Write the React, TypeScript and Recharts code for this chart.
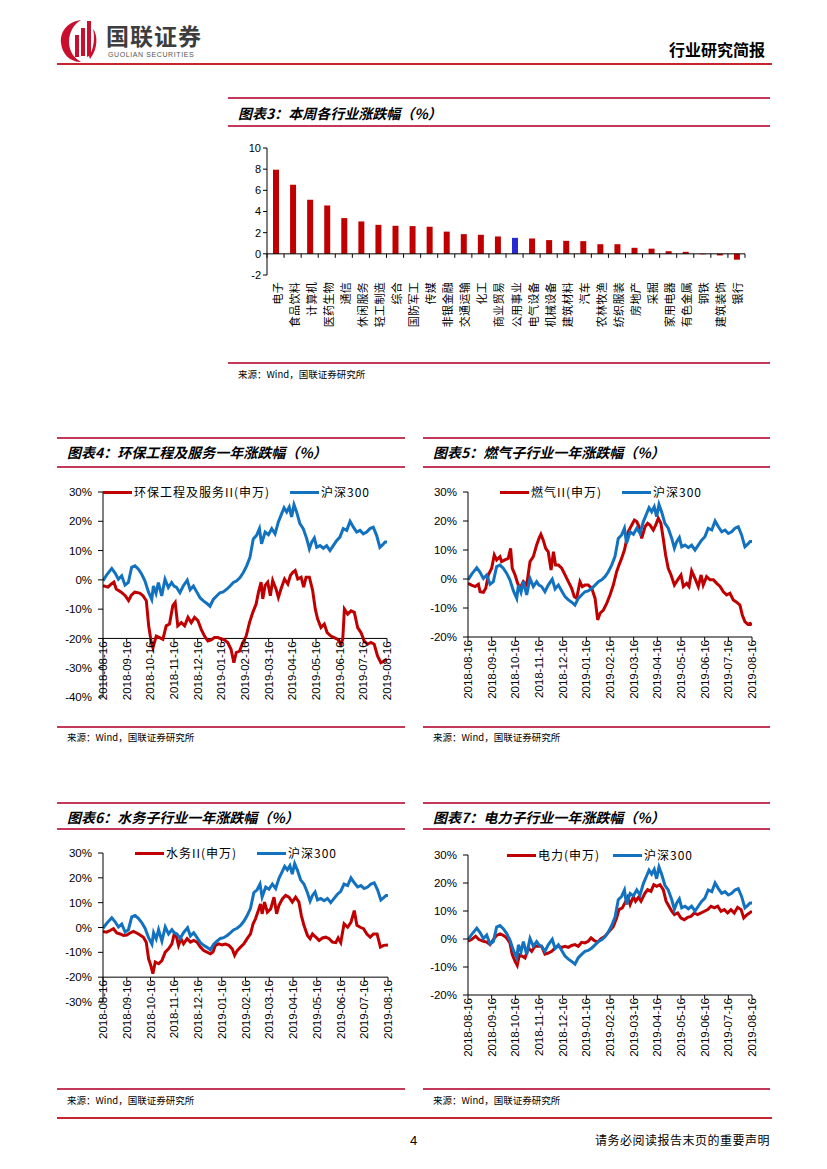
import React from "react";
import { Bar, BarChart, Cell, Line, LineChart, ReferenceLine, XAxis, YAxis } from "recharts";

/* 图表3：本周各行业涨跌幅 (%) */
const industries = [
  "电子", "食品饮料", "计算机", "医药生物", "通信", "休闲服务", "轻工制造", "综合",
  "国防军工", "传媒", "非银金融", "交通运输", "化工", "商业贸易", "公用事业", "电气设备",
  "机械设备", "建筑材料", "汽车", "农林牧渔", "纺织服装", "房地产", "采掘", "家用电器",
  "有色金属", "钢铁", "建筑装饰", "银行",
];
const weeklyChange = [
  7.95, 6.53, 5.11, 4.57, 3.38, 3.06, 2.74, 2.65, 2.62, 2.56, 2.1, 1.86, 1.8, 1.64,
  1.51, 1.45, 1.3, 1.23, 1.2, 0.91, 0.91, 0.57, 0.49, 0.25, 0.19, -0.05, -0.15, -0.55,
];
const highlightIndustry = "公用事业";
const barTicks = [-2, 0, 2, 4, 6, 8, 10];

/* one-year trend charts: x = months since 2018-08-16, y = % change */
const monthLabels = [
  "2018-08-16", "2018-09-16", "2018-10-16", "2018-11-16", "2018-12-16", "2019-01-16",
  "2019-02-16", "2019-03-16", "2019-04-16", "2019-05-16", "2019-06-16", "2019-07-16",
  "2019-08-16",
];
const monthTicks = [0, 1, 2, 3, 4, 5, 6, 7, 8, 9, 10, 11, 12];

type Pt = [number, number];

const hs300: Pt[] = [
  [0, -0.3], [0.15, 1.6], [0.37, 3.9], [0.51, 2.3], [0.65, 0.2], [0.79, 1.4], [0.93, -1.8],
  [1.07, -0.9], [1.21, 4.3], [1.35, 4.8], [1.49, 3.7], [1.63, 2.0], [1.77, -0.3], [1.92, -4.1],
  [2.06, -6.7], [2.13, -2.1], [2.24, -4.6], [2.34, -0.9], [2.48, -5.5], [2.62, 0.2], [2.76, -2.6],
  [2.9, -0.9], [3.0, -2.1], [3.11, -2.6], [3.25, -4.4], [3.39, -2.1], [3.56, -0.1], [3.68, -3.4],
  [3.82, -2.1], [3.96, -4.1], [4.1, -6.1], [4.24, -7.2], [4.38, -8.0], [4.52, -9.0], [4.66, -6.7],
  [4.8, -5.5], [4.94, -4.4], [5.08, -4.1], [5.23, -3.2], [5.37, -2.1], [5.51, -0.9], [5.65, -0.3],
  [5.79, 0.8], [5.93, 2.5], [6.07, 4.8], [6.21, 7.7], [6.35, 14.0], [6.49, 15.2], [6.61, 17.5],
  [6.7, 12.3], [6.85, 16.3], [6.99, 15.4], [7.13, 17.5], [7.27, 15.7], [7.41, 19.8], [7.55, 22.6],
  [7.65, 24.6], [7.76, 23.2], [7.87, 24.9], [7.97, 21.5], [8.07, 25.7], [8.18, 23.2], [8.32, 19.2],
  [8.46, 17.5], [8.61, 14.0], [8.72, 10.6], [8.82, 12.9], [8.93, 14.3], [9.03, 11.1], [9.17, 11.7],
  [9.31, 10.8], [9.45, 11.7], [9.59, 10.0], [9.73, 11.7], [9.87, 13.4], [10.01, 14.6], [10.15, 17.5],
  [10.3, 16.9], [10.44, 20.0], [10.58, 18.0], [10.72, 16.3], [10.86, 16.9], [11.0, 15.7],
  [11.14, 16.3], [11.28, 17.5], [11.42, 18.0], [11.56, 15.2], [11.7, 11.1], [11.82, 12.0],
  [11.92, 12.9], [12.0, 12.9],
];

const envEngineering: Pt[] = [
  [0, -2.0], [0.21, -2.5], [0.35, -1.4], [0.46, -0.8], [0.56, -3.1], [0.77, -4.2], [0.94, -5.4],
  [1.08, -7.1], [1.2, -5.2], [1.34, -4.2], [1.55, -4.5], [1.69, -5.4], [1.83, -7.1], [1.93, -15.7],
  [2.04, -21.4], [2.11, -23.2], [2.25, -19.2], [2.39, -19.7], [2.53, -20.3], [2.67, -15.7],
  [2.81, -15.1], [2.95, -8.8], [3.05, -7.7], [3.16, -15.7], [3.31, -14.6], [3.45, -15.7],
  [3.59, -12.8], [3.73, -14.6], [3.87, -12.8], [4.01, -13.9], [4.15, -16.9], [4.29, -19.2],
  [4.43, -20.9], [4.57, -20.5], [4.71, -19.7], [4.85, -19.7], [4.99, -20.1], [5.13, -20.5],
  [5.27, -21.4], [5.41, -23.7], [5.53, -28.3], [5.63, -24.8], [5.77, -24.3], [5.91, -21.4],
  [6.05, -19.2], [6.19, -14.6], [6.33, -11.1], [6.47, -8.3], [6.57, -4.2], [6.68, -0.8],
  [6.75, -6.5], [6.85, -1.9], [6.96, -0.8], [7.07, -5.4], [7.17, -0.2], [7.31, -3.1], [7.41, -6.0],
  [7.52, -3.1], [7.67, 0.3], [7.81, -1.4], [7.92, 1.5], [8.02, 2.6], [8.12, 3.2], [8.23, 0.3],
  [8.37, 0.9], [8.48, -2.5], [8.58, 0.9], [8.72, 0.9], [8.86, -3.7], [8.97, -10.0], [9.07, -13.4],
  [9.21, -16.3], [9.35, -15.1], [9.47, -18.0], [9.63, -19.2], [9.77, -19.7], [9.92, -20.3],
  [10.06, -22.0], [10.13, -20.3], [10.2, -10.0], [10.34, -11.7], [10.48, -10.6], [10.62, -11.1],
  [10.76, -16.3], [10.9, -18.0], [11.04, -20.9], [11.18, -22.0], [11.32, -21.4], [11.46, -22.0],
  [11.6, -26.0], [11.74, -28.3], [11.88, -27.7], [12.0, -27.0],
];

const gasSector: Pt[] = [
  [0, -1.5], [0.15, -2.1], [0.3, -2.6], [0.44, -1.8], [0.51, -4.4], [0.65, -4.6], [0.75, -3.2],
  [0.86, 1.4], [1.0, 3.7], [1.11, 8.3], [1.21, 6.6], [1.35, 7.7], [1.42, 6.0], [1.56, 6.6],
  [1.7, 7.1], [1.8, 10.6], [1.87, 3.7], [1.99, 1.4], [2.1, -1.5], [2.2, -3.2], [2.34, -0.9],
  [2.48, -2.1], [2.62, 6.0], [2.76, 7.7], [2.9, 11.7], [3.0, 14.0], [3.08, 15.4], [3.18, 13.4],
  [3.28, 10.6], [3.39, 9.4], [3.51, 3.1], [3.61, 9.4], [3.7, 4.8], [3.82, 4.8], [3.96, 3.7],
  [4.1, 1.4], [4.24, -0.9], [4.38, -3.2], [4.49, -6.1], [4.59, -6.7], [4.73, -0.9], [4.83, -2.6],
  [4.94, -2.1], [5.08, -2.1], [5.23, -3.2], [5.37, -6.7], [5.48, -14.1], [5.58, -11.8],
  [5.72, -10.7], [5.86, -8.4], [6.0, -5.5], [6.14, -2.1], [6.28, 2.5], [6.38, 4.8], [6.49, 7.1],
  [6.61, 10.0], [6.7, 13.4], [6.77, 16.3], [6.92, 18.6], [7.03, 20.3], [7.13, 19.8], [7.23, 18.0],
  [7.34, 14.0], [7.48, 18.0], [7.59, 19.2], [7.69, 18.6], [7.83, 16.9], [7.93, 18.6], [8.04, 20.9],
  [8.15, 19.2], [8.25, 14.0], [8.35, 8.3], [8.46, 3.7], [8.58, 1.4], [8.72, -2.1], [8.86, -0.3],
  [9.0, 1.4], [9.1, -2.6], [9.24, -1.5], [9.34, -2.6], [9.45, 2.8], [9.59, 0.2], [9.73, -2.6],
  [9.85, 1.4], [9.94, -2.1], [10.08, 0.8], [10.23, -0.3], [10.37, -0.3], [10.51, -1.5],
  [10.65, -2.6], [10.79, -4.4], [10.93, -5.5], [11.07, -4.9], [11.21, -7.2], [11.35, -8.0],
  [11.49, -9.0], [11.59, -12.4], [11.7, -14.7], [11.82, -15.6], [11.92, -15.3], [12.0, -15.9],
];

const waterSector: Pt[] = [
  [0, -1.6], [0.15, -1.9], [0.3, -1.2], [0.44, -0.5], [0.58, -2.2], [0.72, -2.6], [0.86, -3.2],
  [1.0, -3.0], [1.14, -2.2], [1.28, -1.6], [1.42, -2.2], [1.56, -3.0], [1.7, -3.9], [1.82, -5.9],
  [1.92, -12.6], [2.01, -15.2], [2.1, -18.6], [2.2, -13.9], [2.34, -14.6], [2.48, -13.3],
  [2.62, -9.9], [2.76, -8.6], [2.9, -6.6], [3.0, -2.6], [3.08, -3.2], [3.18, -7.2], [3.28, -4.5],
  [3.39, -6.6], [3.54, -4.5], [3.68, -5.9], [3.82, -5.2], [3.96, -5.9], [4.1, -7.9], [4.24, -9.3],
  [4.38, -9.9], [4.52, -10.6], [4.63, -9.9], [4.73, -7.2], [4.87, -6.6], [5.01, -7.0], [5.15, -6.7],
  [5.3, -7.2], [5.44, -8.6], [5.54, -11.2], [5.65, -9.3], [5.79, -7.9], [5.93, -6.6], [6.07, -4.5],
  [6.21, -2.6], [6.32, 1.5], [6.42, 3.5], [6.52, 6.2], [6.63, 9.5], [6.7, 5.5], [6.8, 10.2],
  [6.92, 6.2], [7.06, 7.5], [7.2, 12.2], [7.31, 5.5], [7.41, 8.9], [7.55, 11.5], [7.69, 12.9],
  [7.83, 12.2], [7.97, 10.2], [8.11, 12.2], [8.25, 10.2], [8.35, 4.9], [8.46, 0.9], [8.61, -3.2],
  [8.72, -4.5], [8.82, -2.6], [8.96, -3.9], [9.1, -5.2], [9.24, -4.2], [9.38, -3.9], [9.52, -4.5],
  [9.66, -5.9], [9.8, -6.1], [9.9, -4.2], [10.01, -6.1], [10.15, 1.5], [10.3, 0.1], [10.44, 2.1],
  [10.58, 6.8], [10.69, 0.9], [10.83, 0.1], [10.97, -0.5], [11.11, -2.6], [11.25, -3.9],
  [11.39, -2.6], [11.54, -2.6], [11.68, -7.9], [11.82, -7.2], [12.0, -7.0],
];

const powerSector: Pt[] = [
  [0, -0.8], [0.15, -0.2], [0.32, 1.0], [0.46, -0.2], [0.65, -0.8], [0.79, -1.1], [0.93, -2.0],
  [1.07, -0.2], [1.21, 1.3], [1.35, 1.8], [1.49, 1.3], [1.63, 0.4], [1.77, -1.4], [1.87, -5.6],
  [1.99, -8.0], [2.08, -9.4], [2.17, -5.6], [2.3, -6.2], [2.41, -6.8], [2.55, -3.2], [2.69, -4.4],
  [2.83, -2.6], [2.97, -2.6], [3.11, -2.6], [3.25, -5.4], [3.39, -5.0], [3.54, -4.4], [3.68, -3.2],
  [3.82, -2.6], [3.96, -3.0], [4.1, -2.6], [4.24, -3.0], [4.38, -2.3], [4.52, -2.0], [4.66, -2.6],
  [4.8, -1.2], [4.94, -1.4], [5.08, -0.8], [5.2, 0.4], [5.34, -0.6], [5.48, -1.1], [5.62, 0.1],
  [5.79, 1.0], [5.96, 2.7], [6.14, 4.5], [6.28, 7.5], [6.38, 10.5], [6.52, 11.1], [6.63, 12.9],
  [6.75, 14.9], [6.85, 12.3], [6.99, 15.2], [7.08, 13.5], [7.2, 14.9], [7.31, 13.5], [7.48, 16.4],
  [7.59, 17.6], [7.73, 17.0], [7.85, 19.4], [7.97, 18.8], [8.11, 19.4], [8.25, 17.6], [8.37, 13.5],
  [8.49, 11.7], [8.61, 9.9], [8.72, 8.7], [8.86, 9.3], [9.0, 7.5], [9.14, 6.9], [9.28, 7.7],
  [9.42, 8.1], [9.56, 9.3], [9.7, 8.7], [9.85, 9.3], [9.99, 9.9], [10.13, 10.5], [10.27, 11.7],
  [10.41, 11.1], [10.55, 11.7], [10.69, 9.9], [10.83, 10.5], [10.97, 9.3], [11.11, 10.5],
  [11.25, 9.3], [11.39, 11.3], [11.54, 10.5], [11.65, 7.5], [11.79, 8.7], [12.0, 9.9],
];

const envTicks = [-40, -30, -20, -10, 0, 10, 20, 30];
const gasTicks = [-20, -10, 0, 10, 20, 30];
const waterTicks = [-30, -20, -10, 0, 10, 20, 30];
const powerTicks = [-20, -10, 0, 10, 20, 30];

const RED = "#C00000";
const BLUE = "#1272C0";
const BAR_BLUE = "#2A2AD2";
const RULE = "#C4385A";
const CJK = '"Noto Sans CJK SC", sans-serif';
const LATIN = '"Liberation Sans", Arial, sans-serif';

const barRows = industries.map((name, i) => ({ name, value: weeklyChange[i] }));
const toRows = (s: Pt[]) => s.map(([x, y]) => ({ x, y }));

// bar chart geometry
const BAR_PLOT_H = 127;
const BAR_BAND = 478 / industries.length;

function CategoryTick(props: any) {
  const { x, y, payload, index } = props;
  const zeroY =
    y - (BAR_PLOT_H * (0 - barTicks[0])) / (barTicks[barTicks.length - 1] - barTicks[0]);
  return (
    <g>
      <line x1={x - BAR_BAND / 2} x2={x - BAR_BAND / 2} y1={zeroY} y2={zeroY + 4} stroke="#000" />
      {index === industries.length - 1 ? (
        <line x1={x + BAR_BAND / 2} x2={x + BAR_BAND / 2} y1={zeroY} y2={zeroY + 4} stroke="#000" />
      ) : null}
      <text
        transform={`translate(${x + 1},${y + 7}) rotate(-90)`}
        textAnchor="end"
        dominantBaseline="central"
        fontSize={11}
        letterSpacing={0.3}
        fontFamily={CJK}
        fill="#000"
      >
        {payload.value}
      </text>
    </g>
  );
}

function Txt({
  x,
  y,
  size,
  children,
  style,
}: {
  x: number;
  y: number;
  size: number;
  children: React.ReactNode;
  style?: React.CSSProperties;
}) {
  return (
    <div
      style={{
        position: "absolute",
        left: x,
        top: y - size / 2,
        fontSize: size,
        lineHeight: `${size}px`,
        whiteSpace: "nowrap",
        color: "#000",
        fontFamily: CJK,
        ...style,
      }}
    >
      {children}
    </div>
  );
}

function Rule({ x1, x2, y, h = 1.5, color = RULE }: { x1: number; x2: number; y: number; h?: number; color?: string }) {
  return (
    <div style={{ position: "absolute", left: x1, top: y - h / 2, width: x2 - x1, height: h, background: color }} />
  );
}

function SectionFrame({
  x1,
  x2,
  top,
  titleY,
  underY,
  bottom,
  sourceY,
  title,
}: {
  x1: number;
  x2: number;
  top: number;
  titleY: number;
  underY: number;
  bottom: number;
  sourceY: number;
  title: string;
}) {
  return (
    <>
      <Rule x1={x1} x2={x2} y={top} />
      <Txt x={x1 + 10} y={titleY} size={14} style={{ fontWeight: 700, fontStyle: "italic" }}>
        {title}
      </Txt>
      <Rule x1={x1} x2={x2} y={underY} />
      <Rule x1={x1} x2={x2} y={bottom} />
      <Txt x={x1 + 10} y={sourceY} size={9.5}>
        来源：Wind，国联证券研究所
      </Txt>
    </>
  );
}

function LegendItem({ x, y, color, label }: { x: number; y: number; color: string; label: string }) {
  return (
    <>
      <div style={{ position: "absolute", left: x, top: y - 1.5, width: 29, height: 3, background: color }} />
      <Txt x={x + 31} y={y} size={12} style={{ letterSpacing: 1 }}>
        {label}
      </Txt>
    </>
  );
}

function TrendPanel({
  left,
  top,
  width,
  height,
  yTicks,
  axisAt,
  sector,
}: {
  left: number;
  top: number;
  width: number;
  height: number;
  yTicks: number[];
  axisAt: number;
  sector: Pt[];
}) {
  const margin = { top: 10, right: 13, bottom: 65, left: 0 };
  const xAxisH = 10;
  const plotH = height - margin.top - margin.bottom - xAxisH;
  const yMin = yTicks[0];
  const yMax = yTicks[yTicks.length - 1];
  // the date axis crosses the value axis at axisAt, not at the bottom of the range
  const shift = (plotH * (axisAt - yMin)) / (yMax - yMin);

  const dateTick = (p: any) => {
    const ay = p.y - shift;
    return (
      <g>
        <line x1={p.x} x2={p.x} y1={ay} y2={ay + 4} stroke="#000" />
        <text
          transform={`translate(${p.x},${ay + 3}) rotate(-90)`}
          textAnchor="end"
          dominantBaseline="central"
          fontSize={11.5}
          fontFamily={LATIN}
          fill="#000"
        >
          {monthLabels[p.payload.value]}
        </text>
      </g>
    );
  };

  return (
    <div style={{ position: "absolute", left, top }}>
      <LineChart width={width} height={height} margin={margin}>
        <XAxis
          type="number"
          dataKey="x"
          domain={[0, 12]}
          ticks={monthTicks}
          interval={0}
          height={xAxisH}
          tickSize={0}
          tickMargin={0}
          axisLine={false}
          tickLine={false}
          tick={dateTick}
          allowDataOverflow
        />
        <YAxis
          type="number"
          domain={[yMin, yMax]}
          ticks={yTicks}
          interval={0}
          width={48}
          tickSize={5}
          tickMargin={6}
          axisLine={{ stroke: "#000" }}
          tickLine={{ stroke: "#000" }}
          tick={{ fontSize: 11.5, fill: "#000", fontFamily: LATIN }}
          tickFormatter={(v: number) => `${v}%`}
        />
        <ReferenceLine y={axisAt} stroke="#000" />
        <Line
          data={toRows(sector)}
          dataKey="y"
          type="linear"
          stroke={RED}
          strokeWidth={3}
          dot={false}
          isAnimationActive={false}
        />
        <Line
          data={toRows(hs300)}
          dataKey="y"
          type="linear"
          stroke={BLUE}
          strokeWidth={3}
          dot={false}
          isAnimationActive={false}
        />
      </LineChart>
    </div>
  );
}

function Logo() {
  return (
    <>
      <svg style={{ position: "absolute", left: 60, top: 19 }} width={40} height={44} viewBox="0 0 40 44">
        <path d="M21 1 C6 3 0 14 1 24 C2 35 10 43 21 43 C14 39 9 32 9 23 C9 13 14 5 21 1 Z" fill="#C8102E" />
        <rect x={15} y={16} width={4} height={22} fill="#C8102E" />
        <rect x={21} y={9} width={4} height={28} fill="#C8102E" />
        <path d="M27 2 L31 2 L31 36 L27 38 Z" fill="#C8102E" />
        <path d="M33 10 C38 16 38 30 30 40 L29 37 C34 30 35 18 33 10 Z" fill="#C8102E" />
      </svg>
      <Txt x={106} y={35} size={23} style={{ fontWeight: 700, color: "#3d3d3d", letterSpacing: 1 }}>
        国联证券
      </Txt>
      <Txt x={108} y={54} size={7} style={{ fontFamily: LATIN, color: "#555", letterSpacing: 0.6 }}>
        GUOLIAN SECURITIES
      </Txt>
      <Txt x={669} y={49} size={16} style={{ fontWeight: 700 }}>
        行业研究简报
      </Txt>
    </>
  );
}

export default function App() {
  return (
    <div
      style={{
        position: "absolute",
        left: 0,
        top: 0,
        width: 827,
        height: 1169,
        background: "#fff",
        overflow: "hidden",
        fontFamily: CJK,
      }}
    >
      <Logo />
      <Rule x1={57} x2={772} y={64} h={2} color="#C8262E" />

      {/* 图表3 */}
      <SectionFrame
        x1={228}
        x2={770}
        top={98}
        titleY={113}
        underY={126}
        bottom={363}
        sourceY={375}
        title="图表3：本周各行业涨跌幅（%）"
      />
      <div style={{ position: "absolute", left: 228, top: 138 }}>
        <BarChart
          width={530}
          height={220}
          data={barRows}
          margin={{ top: 10, right: 13, bottom: 3, left: 0 }}
          barSize={6}
        >
          <XAxis
            dataKey="name"
            interval={0}
            height={80}
            tickSize={0}
            tickMargin={0}
            axisLine={false}
            tickLine={false}
            tick={<CategoryTick />}
          />
          <YAxis
            domain={[barTicks[0], barTicks[barTicks.length - 1]]}
            ticks={barTicks}
            interval={0}
            width={39}
            tickSize={4}
            tickMargin={2}
            axisLine={{ stroke: "#000" }}
            tickLine={{ stroke: "#000" }}
            tick={{ fontSize: 11, fill: "#000", fontFamily: LATIN }}
          />
          <Bar dataKey="value" isAnimationActive={false}>
            {barRows.map((r) => (
              <Cell key={r.name} fill={r.name === highlightIndustry ? BAR_BLUE : RED} />
            ))}
          </Bar>
          <ReferenceLine y={0} stroke="#000" />
        </BarChart>
      </div>

      {/* 图表4 */}
      <SectionFrame
        x1={57}
        x2={405}
        top={438}
        titleY={452}
        underY={467}
        bottom={727}
        sourceY={738}
        title="图表4：环保工程及服务一年涨跌幅（%）"
      />
      <TrendPanel left={55} top={482} width={345} height={290} yTicks={envTicks} axisAt={-20} sector={envEngineering} />
      <LegendItem x={103} y={492} color={RED} label="环保工程及服务II(申万)" />
      <LegendItem x={290} y={492} color={BLUE} label="沪深300" />

      {/* 图表5 */}
      <SectionFrame
        x1={423}
        x2={770}
        top={438}
        titleY={452}
        underY={467}
        bottom={727}
        sourceY={738}
        title="图表5：燃气子行业一年涨跌幅（%）"
      />
      <TrendPanel left={420} top={482} width={345} height={230} yTicks={gasTicks} axisAt={-20} sector={gasSector} />
      <LegendItem x={500} y={492} color={RED} label="燃气II(申万)" />
      <LegendItem x={622} y={492} color={BLUE} label="沪深300" />

      {/* 图表6 */}
      <SectionFrame
        x1={57}
        x2={405}
        top={803}
        titleY={817}
        underY={829}
        bottom={1089}
        sourceY={1101}
        title="图表6：水务子行业一年涨跌幅（%）"
      />
      <TrendPanel left={55} top={843} width={346} height={234} yTicks={waterTicks} axisAt={-20} sector={waterSector} />
      <LegendItem x={135} y={853} color={RED} label="水务II(申万)" />
      <LegendItem x={257} y={853} color={BLUE} label="沪深300" />

      {/* 图表7 */}
      <SectionFrame
        x1={423}
        x2={770}
        top={803}
        titleY={817}
        underY={829}
        bottom={1089}
        sourceY={1101}
        title="图表7：电力子行业一年涨跌幅（%）"
      />
      <TrendPanel left={420} top={845} width={345} height={225} yTicks={powerTicks} axisAt={-20} sector={powerSector} />
      <LegendItem x={507} y={855} color={RED} label="电力(申万)" />
      <LegendItem x={613} y={855} color={BLUE} label="沪深300" />

      {/* footer */}
      <Rule x1={57} x2={772} y={1118} h={2} color="#C8262E" />
      <Txt x={410} y={1140} size={13} style={{ fontFamily: LATIN }}>
        4
      </Txt>
      <Txt x={595} y={1140} size={12} style={{ letterSpacing: 0.5 }}>
        请务必阅读报告末页的重要声明
      </Txt>
    </div>
  );
}
